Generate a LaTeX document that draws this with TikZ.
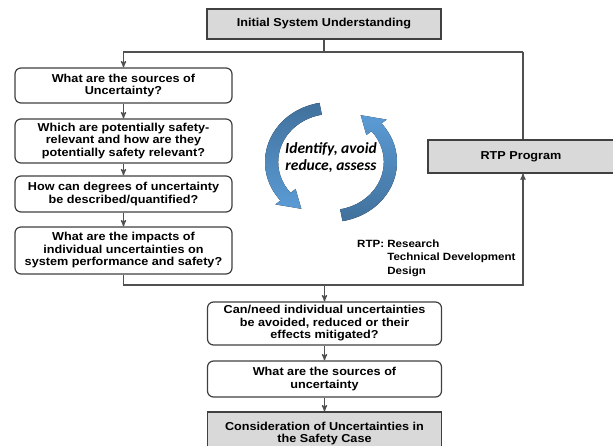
\documentclass[tikz,border=0pt]{standalone}
\usepackage{fontspec}
\setmainfont[FakeStretch=1.1]{Liberation Sans}
\newfontfamily\loopfont{Carlito}
\usetikzlibrary{arrows,positioning,calc}
\definecolor{boxline}{HTML}{404040}
\definecolor{flowline}{HTML}{505050}
\definecolor{boxgray}{HTML}{D9D9D9}
\definecolor{loopdark}{HTML}{41719C}
\definecolor{looplight}{HTML}{5B9BD5}
\tikzset{
 >=stealth',
 qbox/.style={draw=boxline, line width=1.2pt, rounded corners=6pt, fill=white,
   align=center, inner sep=0pt, font=\fontsize{11.5}{12.5}\selectfont\bfseries},
 lbox/.style={qbox, minimum width=217pt},
 cbox/.style={qbox, minimum width=234pt},
 gbox/.style={qbox, rounded corners=0pt, fill=boxgray},
 flow/.style={draw=flowline, line width=1.2pt}
}

\begin{document}
\begin{tikzpicture}[x=1pt,y=-1pt]
\useasboundingbox (0,0) rectangle (613,446);

\path (324,24) node[name=init, gbox, minimum width=234pt, minimum height=30pt] {Initial System Understanding};

\path (123.5,85.5) node[name=src1, lbox, minimum height=35pt] {What are the sources of\\Uncertainty?};
\path (123.5,141) node[name=safety, lbox, minimum height=44pt] {Which are potentially safety-\\relevant and how are they\\potentially safety relevant?};
\path (123.5,194) node[name=degree, lbox, minimum height=36pt] {How can degrees of uncertainty\\be described/quantified?};
\path (123.5,250.5) node[name=impact, lbox, minimum height=47pt] {What are the impacts of\\individual uncertainties on\\system performance and safety?};

\path (521,156.5) node[name=rtp, gbox, minimum width=186pt, minimum height=33pt] {RTP Program};

\path (324.5,323.5) node[name=can, cbox, minimum height=43pt] {Can/need individual uncertainties\\be avoided, reduced or their\\effects mitigated?};
\path (324.5,379) node[name=src2, cbox, minimum height=36pt] {What are the sources of\\uncertainty};
\path (324.5,433.5) node[name=cons, gbox, minimum width=234pt, minimum height=43pt] {Consideration of Uncertainties in\\the Safety Case};

\path (357,237.5) node[name=rtpkey, anchor=north west, inner sep=0pt,
  font=\fontsize{10.5}{13.5}\selectfont\bfseries]
  {\begin{tabular}{@{}l@{\ }l@{}}RTP: & Research\\ & Technical Development\\ & Design\end{tabular}};

\path (331,158) node[name=loop, align=center,
  font=\loopfont\bfseries\itshape\fontsize{15.5}{17}\selectfont] {Identify, avoid\\reduce, assess};

% connectors
\coordinate (topl) at (123.5,52);
\coordinate (topr) at (523,52);
\coordinate (botr) at (523,285);

\path[flow] (init.south) -- (init.south |- topl);
\path[flow,->] (topr) -- (topl) -- (src1.north);
\path[flow] (topr) -- (topr |- rtp.north);

\path[flow,->] (src1) edge (safety);
\path[flow,->] (safety) edge (degree);
\path[flow,->] (degree) edge (impact);

\path[flow,->] (impact.south) |- (botr) -- (botr |- rtp.south);
\path[flow,->] (can.north |- botr) -- (can.north);
\path[flow,->] (can) edge (src2);
\path[flow,->] (src2) edge (cons);

% loop arrows
\begin{scope}[shift={(331,162)}, x=1.1pt, y=1pt]
\fill[top color=loopdark, bottom color=looplight]
  (100:60) arc[start angle=100, end angle=220, radius=60]
  -- (220:66) -- (240:54) -- (220:42) -- (220:48)
  arc[start angle=220, end angle=100, radius=48] -- cycle;
\fill[top color=looplight, bottom color=loopdark]
  (-80:60) arc[start angle=-80, end angle=40, radius=60]
  -- (40:66) -- (60:54) -- (40:42) -- (40:48)
  arc[start angle=40, end angle=-80, radius=48] -- cycle;
\end{scope}

\end{tikzpicture}
\end{document}
